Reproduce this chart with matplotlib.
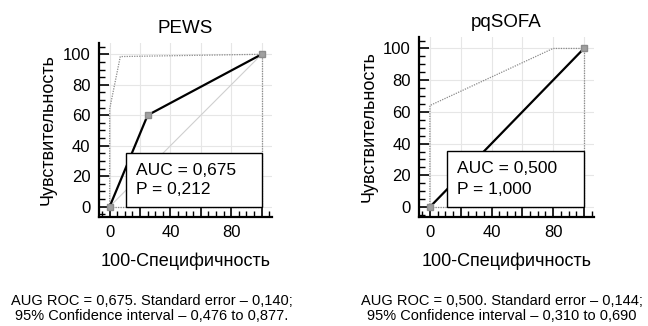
import matplotlib.pyplot as plt
from matplotlib.patches import Rectangle
from matplotlib.ticker import MultipleLocator, FixedFormatter, FixedLocator

plt.rcParams['font.family'] = ['Liberation Sans', 'DejaVu Sans']

# PEWS ROC
pews_x = [0, 25, 100]
pews_y = [0, 60, 100]
pews_ci_up_x = [0, 0, 7, 100]
pews_ci_up_y = [0, 64, 98.5, 100]
pews_auc = '0,675'
pews_p = '0,212'

# pqSOFA ROC
pqsofa_x = [0, 100]
pqsofa_y = [0, 100]
pqsofa_ci_up_x = [0, 0, 80, 100]
pqsofa_ci_up_y = [0, 64, 100, 100]
pqsofa_auc = '0,500'
pqsofa_p = '1,000'

ci_low_x = [0, 100, 100]
ci_low_y = [0, 0, 100]

ticks = [0, 20, 40, 60, 80, 100]
x_labels = ['0', '', '40', '', '80', '']

captions = [
    'AUG ROC = 0,675. Standard error – 0,140;\n95% Confidence interval – 0,476 to 0,877.',
    'AUG ROC = 0,500. Standard error – 0,144;\n95% Confidence interval – 0,310 to 0,690',
]

fig = plt.figure(figsize=(6.48, 3.26), dpi=100)
ax1 = fig.add_axes([0.1523, 0.3344, 0.2675, 0.5337])
ax2 = fig.add_axes([0.647, 0.3344, 0.2696, 0.5525])


def roc_panel(ax, title, fx, fy, upx, upy, auc, p, xlim, ylim):
    ax.set_xlim(*xlim)
    ax.set_ylim(*ylim)
    for t in ticks:
        ax.axvline(t, color='#e6e6e6', lw=0.8, zorder=0)
        ax.axhline(t, color='#e6e6e6', lw=0.8, zorder=0)
    ax.plot([0, 100], [0, 100], color='#cfcfcf', lw=0.8, zorder=1)
    ax.plot(upx, upy, color='#8a8a8a', lw=0.9, ls=(0, (1, 1)), zorder=2)
    ax.plot(ci_low_x, ci_low_y, color='#8a8a8a', lw=0.9, ls=(0, (1, 1)), zorder=2)
    ax.plot(fx, fy, color='black', lw=1.6, zorder=3)
    ax.plot(fx, fy, ls='none', marker='s', ms=5, mfc='#a0a0a0', mec='#8c8c8c', zorder=6)

    # legend box with AUC and p
    ax.add_patch(Rectangle((11, 0), 89, 35.5, facecolor='white', edgecolor='black', lw=1.0, zorder=4))
    ax.text(17.5, 24, 'AUC = ' + auc, fontsize=12.5, va='center', zorder=5)
    ax.text(17.5, 11, 'P = ' + p, fontsize=12.5, va='center', zorder=5)

    for s in ['top', 'right']:
        ax.spines[s].set_visible(False)
    for s in ['left', 'bottom']:
        ax.spines[s].set_linewidth(1.6)
    ax.xaxis.set_major_locator(FixedLocator(ticks))
    ax.xaxis.set_major_formatter(FixedFormatter(x_labels))
    ax.yaxis.set_major_locator(FixedLocator(ticks))
    ax.xaxis.set_minor_locator(MultipleLocator(5))
    ax.yaxis.set_minor_locator(MultipleLocator(5))
    ax.tick_params(which='major', direction='in', length=7, width=1.2, labelsize=12, pad=6)
    ax.tick_params(which='minor', direction='in', length=4, width=1.0)
    ax.set_title(title, fontsize=13.5, pad=7)
    ax.set_xlabel('100-Специфичность', fontsize=13, labelpad=9)
    ax.set_ylabel('Чувствительность', fontsize=13, labelpad=4)


roc_panel(ax1, 'PEWS', pews_x, pews_y, pews_ci_up_x, pews_ci_up_y,
          pews_auc, pews_p, (-7.2, 106.8), (-6.8, 107.4))
roc_panel(ax2, 'pqSOFA', pqsofa_x, pqsofa_y, pqsofa_ci_up_x, pqsofa_ci_up_y,
          pqsofa_auc, pqsofa_p, (-6.9, 106.5), (-6.3, 107.3))

fig.text(0.2346, 0.054, captions[0], ha='center', va='center', fontsize=10.5,
         linespacing=1.05)
fig.text(0.775, 0.054, captions[1], ha='center', va='center', fontsize=10.5,
         linespacing=1.05)

fig.savefig('out.png', dpi=100)
